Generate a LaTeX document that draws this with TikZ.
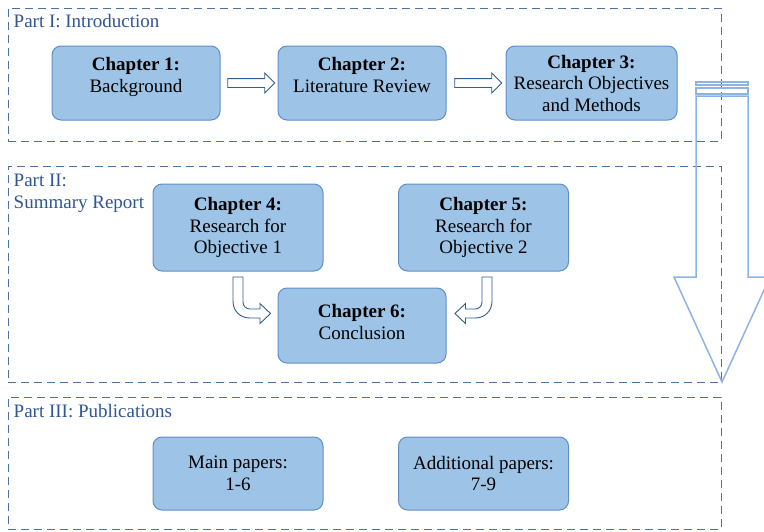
\documentclass[tikz,border=0pt]{standalone}
\usepackage{fontspec}
\setmainfont{Liberation Serif}
\usetikzlibrary{positioning, shapes, shapes.arrows, calc}
\definecolor{chapfill}{HTML}{9DC3E6}
\definecolor{chapline}{HTML}{5F8FC8}
\definecolor{partline}{HTML}{4A72A0}
\definecolor{parttext}{HTML}{2F5597}
\definecolor{bigarrow}{HTML}{8DB3E2}
\definecolor{smallarrow}{HTML}{2E5D8E}
\tikzstyle{chap}=[
  rectangle,
  rounded corners=9pt,
  fill=chapfill,
  draw=chapline,
  line width=1pt,
  align=center,
  inner sep=2pt,
  font={\fontsize{19}{21.5}\selectfont}
]
\tikzstyle{partframe}=[
  rectangle,
  draw=partline,
  line width=1pt,
  dash pattern=on 8pt off 5pt,
  inner sep=0pt
]
\tikzstyle{partlabel}=[
  text=parttext,
  align=left,
  inner sep=0pt,
  anchor=north west,
  font={\fontsize{19}{22}\selectfont}
]
\tikzstyle{blockarrow}=[
  single arrow,
  draw=smallarrow,
  fill=white,
  line width=0.9pt,
  inner sep=4pt,
  minimum height=47pt,
  single arrow head extend=5.5pt,
  single arrow tip angle=90
]
\tikzstyle{bendarrow}=[
  draw=smallarrow,
  fill=white,
  line width=0.9pt,
  line join=miter
]

\begin{document}
\begin{tikzpicture}[x=1pt, y=-1pt]

\useasboundingbox (0,0) rectangle (764,531);

%% parts
\node[partframe, minimum width=713pt, minimum height=133pt] (p1) at (364.5,74.5) {};
\node[partframe, minimum width=713pt, minimum height=216pt] (p2) at (364.5,274) {};
\node[partframe, minimum width=713pt, minimum height=132pt] (p3) at (364.5,463) {};

\node[partlabel] (l1) at ($(p1.north west)+(6,7)$) {Part I: Introduction};
\node[partlabel] (l2) at ($(p2.north west)+(6,8)$) {Part II:\\Summary Report};
\node[partlabel] (l3) at ($(p3.north west)+(6,8)$) {Part III: Publications};

%% big arrow
\draw[bigarrow, line width=1.5pt] (696,96) -- (696,277) -- (674,277) -- (722,382)
  -- (770,277) -- (748,277) -- (748,96) -- cycle;
\draw[bigarrow, line width=1.5pt] (696,82) rectangle (748,85);
\draw[bigarrow, line width=1.5pt] (696,88) rectangle (748,94);

%% chapters
\node[chap, minimum width=168pt, minimum height=74pt, text depth=16pt] (c1) at (136,83)
  {\textbf{Chapter 1:}\\Background};
\node[chap, minimum width=168pt, minimum height=74pt, text depth=16pt] (c2) at (362,83)
  {\textbf{Chapter 2:}\\Literature Review};
\node[chap, minimum width=171pt, minimum height=74pt] (c3) at (591.5,83)
  {\textbf{Chapter 3:}\\Research Objectives\\and Methods};

\node[chap, minimum width=170pt, minimum height=87pt] (c4) at (238,227.5)
  {\textbf{Chapter 4:}\\Research for\\Objective 1};
\node[chap, minimum width=170pt, minimum height=87pt] (c5) at (483.5,227.5)
  {\textbf{Chapter 5:}\\Research for\\Objective 2};
\node[chap, minimum width=168pt, minimum height=75pt, text depth=7pt] (c6) at (362,325.5)
  {\textbf{Chapter 6:}\\Conclusion};

\node[chap, minimum width=170pt, minimum height=73pt] (pm) at (238,473.5)
  {Main papers:\\1-6};
\node[chap, minimum width=170pt, minimum height=73pt] (pa) at (483.5,473.5)
  {Additional papers:\\7-9};

%% arrows
\node[blockarrow] (a12) at ($(c1.east)!0.5!(c2.west)$) {};
\node[blockarrow] (a23) at ($(c2.east)!0.5!(c3.west)$) {};

\draw[bendarrow] (233,277) -- (233,301) .. controls (233,311) and (240,318) .. (250,318)
  -- (260,318) -- (260,323.5) -- (270.5,313.5) -- (260,303.5) -- (260,309)
  -- (250,309) .. controls (246,309) and (243,306) .. (243,302) -- (243,277) -- cycle;

\draw[bendarrow] (492,277) -- (492,301) .. controls (492,311) and (485,318) .. (475,318)
  -- (465.5,318) -- (465.5,323.5) -- (455,313.5) -- (465.5,303.5) -- (465.5,309)
  -- (475,309) .. controls (479,309) and (482,306) .. (482,302) -- (482,277) -- cycle;

\end{tikzpicture}
\end{document}
